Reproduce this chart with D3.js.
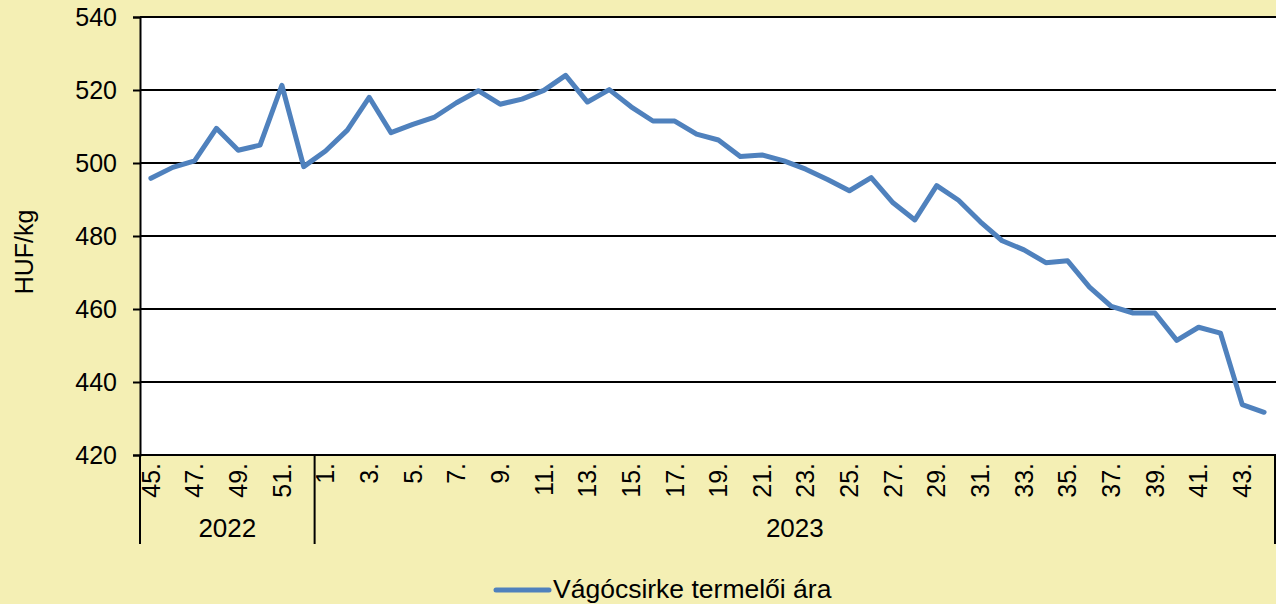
<!DOCTYPE html>
<html>
<head>
<meta charset="utf-8">
<script src="https://cdn.jsdelivr.net/npm/d3@7/dist/d3.min.js"></script>
<style>
  html, body { margin: 0; padding: 0; background: #F4EFB4; }
  svg { display: block; font-family: "Liberation Sans", Arial, sans-serif; }
</style>
</head>
<body>
<div id="chart"></div>
<script>
// ---- data ----
const years = ['2022', '2023'];
const weeks2022 = [45, 46, 47, 48, 49, 50, 51, 52];
const weeks2023 = d3.range(1, 45);
const prices = [
  495.8, 498.8, 500.6, 509.5, 503.5, 504.9, 521.3, 499.0,
  503.3, 509.0, 518.0, 508.3, 510.6, 512.6, 516.5, 519.8, 516.1, 517.5,
  519.9, 524.0, 516.7, 520.1, 515.4, 511.5, 511.5, 507.9, 506.3, 501.8,
  502.2, 500.6, 498.3, 495.5, 492.4, 496.0, 489.1, 484.4, 493.8, 489.8,
  483.9, 478.7, 476.2, 472.7, 473.2, 466.0, 460.7, 458.9, 458.9, 451.4,
  455.0, 453.4, 433.8, 431.7
];
const yTicks = [420, 440, 460, 480, 500, 520, 540];
const seriesName = 'Vágócsirke termelői ára';
const yTitle = 'HUF/kg';

// ---- layout ----
const W = 1276, H = 604;
const m = { left: 140, right: 1275, top: 17, bottom: 455 };
const lineColor = '#4F81BD';

const cats = weeks2022.map(w => ({ year: '2022', week: w }))
  .concat(weeks2023.map(w => ({ year: '2023', week: w })));
cats.forEach((c, i) => { c.key = c.year + '-' + c.week; c.value = prices[i]; });

const svg = d3.select('#chart').append('svg')
  .attr('width', W).attr('height', H);

svg.append('rect').attr('width', W).attr('height', H).attr('fill', '#F4EFB4');

const x = d3.scaleBand()
  .domain(cats.map(c => c.key))
  .range([m.left, m.right]);

const y = d3.scaleLinear()
  .domain([420, 540])
  .range([m.bottom, m.top]);

// Plot background
svg.append('rect')
  .attr('x', m.left).attr('y', m.top)
  .attr('width', m.right - m.left + 1).attr('height', m.bottom - m.top)
  .attr('fill', '#fff');

// Gridlines
svg.append('g')
  .selectAll('line')
  .data(yTicks)
  .join('line')
  .attr('x1', m.left).attr('x2', W)
  .attr('y1', d => y(d)).attr('y2', d => y(d))
  .attr('stroke', '#000').attr('stroke-width', 2);

// Y axis
const yAxis = svg.append('g')
  .attr('transform', `translate(${m.left},0)`)
  .call(d3.axisLeft(y).tickValues(yTicks).tickSize(7).tickPadding(16).tickFormat(d3.format('d')));
yAxis.select('.domain').attr('stroke', '#000').attr('stroke-width', 2);
yAxis.selectAll('.tick line').attr('stroke', '#000').attr('stroke-width', 2);
yAxis.selectAll('.tick text')
  .attr('font-size', 25).attr('fill', '#000')
  .attr('font-family', '"Liberation Sans", Arial, sans-serif');

// Y title
svg.append('text')
  .attr('transform', `translate(33,${(m.top + m.bottom) / 2 + 16}) rotate(-90)`)
  .attr('text-anchor', 'middle')
  .attr('font-size', 25)
  .text(yTitle);

// X tick labels (odd weeks)
const xLab = svg.append('g');
cats.forEach(c => {
  if (c.week % 2 !== 1) return;
  xLab.append('text')
    .attr('transform', `translate(${x(c.key) + x.bandwidth() / 2},463) rotate(-90)`)
    .attr('text-anchor', 'end')
    .attr('dy', '0.35em')
    .attr('font-size', 25)
    .text(c.week + '.');
});

// Year groups + separators
const yearBounds = years.map(yr => {
  const ks = cats.filter(c => c.year === yr).map(c => c.key);
  return { year: yr, x0: x(ks[0]), x1: x(ks[ks.length - 1]) + x.bandwidth() };
});
const sepX = [yearBounds[0].x0, yearBounds[0].x1, yearBounds[1].x1];
svg.append('g')
  .selectAll('line')
  .data(sepX)
  .join('line')
  .attr('x1', d => d).attr('x2', d => d)
  .attr('y1', m.bottom).attr('y2', 544)
  .attr('stroke', '#000').attr('stroke-width', 2);

svg.append('g')
  .selectAll('text')
  .data(yearBounds)
  .join('text')
  .attr('x', d => (d.x0 + d.x1) / 2)
  .attr('y', 537)
  .attr('text-anchor', 'middle')
  .attr('font-size', 26)
  .text(d => d.year);

// X axis line
svg.append('line')
  .attr('x1', m.left).attr('x2', W)
  .attr('y1', m.bottom).attr('y2', m.bottom)
  .attr('stroke', '#000').attr('stroke-width', 2);

// Series line
const line = d3.line()
  .x(d => x(d.key) + x.bandwidth() / 2)
  .y(d => y(d.value));

svg.append('path')
  .datum(cats)
  .attr('d', line)
  .attr('fill', 'none')
  .attr('stroke', lineColor)
  .attr('stroke-width', 5)
  .attr('stroke-linejoin', 'round')
  .attr('stroke-linecap', 'round');

// Legend
const lg = svg.append('g');
lg.append('line')
  .attr('x1', 496).attr('x2', 549)
  .attr('y1', 590).attr('y2', 590)
  .attr('stroke', lineColor).attr('stroke-width', 5)
  .attr('stroke-linecap', 'round');
lg.append('text')
  .attr('x', 553).attr('y', 598)
  .attr('font-size', 26.5)
  .text(seriesName);
</script>
</body>
</html>
